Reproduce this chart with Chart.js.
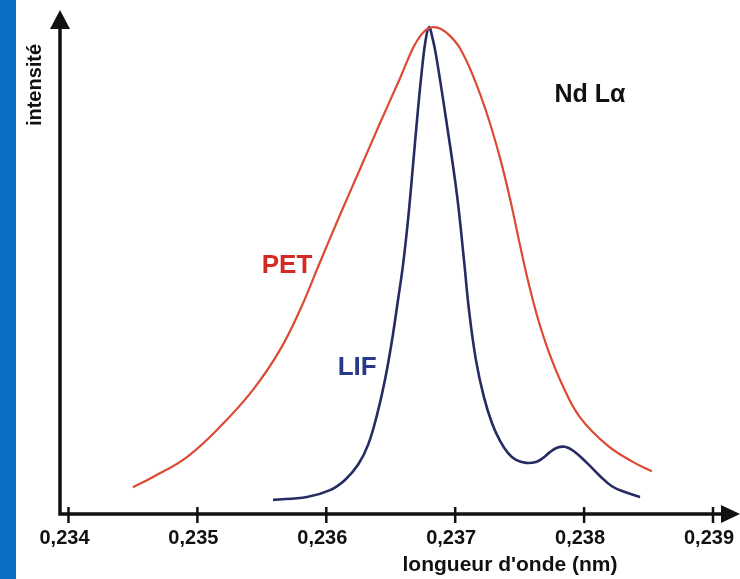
<!DOCTYPE html>
<html>
<head>
<meta charset="utf-8">
<script src="https://cdn.jsdelivr.net/npm/chart.js@4.4.1/dist/chart.umd.min.js"></script>
<style>
  html, body { margin: 0; padding: 0; background: #ffffff; }
  #wrap { width: 740px; height: 579px; }
</style>
</head>
<body>
<div id="wrap"><canvas id="spectrum" width="740" height="579"></canvas></div>
<script>
// wavelength (nm) and relative intensity
const petX = [0.234500, 0.234656, 0.234919, 0.235175, 0.235431, 0.235641, 0.235796, 0.235951,
              0.236106, 0.236261, 0.236417, 0.236572, 0.236673, 0.236735, 0.236789, 0.236836,
              0.236890, 0.236960, 0.237036, 0.237137, 0.237245, 0.237346, 0.237424, 0.237494,
              0.237564, 0.237641, 0.237726, 0.237835, 0.237967, 0.238176, 0.238378, 0.238525];
const petY = [5.5, 7.6, 11.7, 17.9, 25.5, 33.7, 41.9, 51.7,
              61.4, 70.8, 80.3, 89.5, 95.7, 98.4, 99.7, 100,
              99.6, 98.2, 95.7, 90.1, 82.3, 73.3, 64.9, 56.3,
              48.0, 40.2, 33.3, 26.3, 19.9, 14.2, 10.7, 8.8];

const lifX = [0.235587, 0.235850, 0.236029, 0.236145, 0.236246, 0.236324, 0.236393, 0.236455,
              0.236510, 0.236556, 0.236595, 0.236634, 0.236673, 0.236711, 0.236750, 0.236773,
              0.236797, 0.236820, 0.236851, 0.236936, 0.237014, 0.237068, 0.237107, 0.237161,
              0.237223, 0.237285, 0.237348, 0.237410, 0.237472, 0.237549, 0.237627, 0.237681,
              0.237735, 0.237790, 0.237852, 0.237921, 0.238022, 0.238123, 0.238216, 0.238317,
              0.238434];
const lifY = [2.9, 3.5, 4.9, 7.0, 10.1, 14.2, 20.3, 27.5,
              35.7, 43.9, 51.1, 60.4, 71.7, 83.0, 93.2, 97.7,
              100, 98.2, 94.3, 79.9, 65.5, 52.2, 41.9, 31.6,
              24.0, 18.7, 15.0, 12.5, 11.1, 10.5, 10.7, 11.5,
              12.7, 13.6, 13.8, 12.9, 10.5, 7.8, 5.7, 4.5,
              3.5];

const xTicks = [0.234, 0.235, 0.236, 0.237, 0.238, 0.239];

const FONT = '"Liberation Sans", Arial, sans-serif';

const toPoints = (xs, ys) => xs.map((x, i) => ({ x: x, y: ys[i] }));

// axes with arrows, crossing tick marks, labels and the blue side band
const figurePlugin = {
    id: 'figure',
    beforeDraw(chart) {
        const ctx = chart.ctx;
        ctx.save();
        ctx.fillStyle = '#ffffff';
        ctx.fillRect(0, 0, chart.width, chart.height);
        ctx.fillStyle = '#0a6fc2';
        ctx.fillRect(0, 0, 16, chart.height);
        ctx.restore();
    },
    afterDraw(chart) {
        const ctx = chart.ctx;
        const area = chart.chartArea;
        const xs = chart.scales.x;
        const ys = chart.scales.y;
        ctx.save();

        // axis lines
        ctx.strokeStyle = '#111111';
        ctx.lineWidth = 3.5;
        ctx.beginPath();
        ctx.moveTo(area.left, area.top + 14);
        ctx.lineTo(area.left, area.bottom);
        ctx.lineTo(area.right - 14, area.bottom);
        ctx.stroke();

        // arrow heads
        ctx.fillStyle = '#111111';
        ctx.beginPath();
        ctx.moveTo(area.left, area.top - 2);
        ctx.lineTo(area.left - 10, area.top + 17);
        ctx.lineTo(area.left + 10, area.top + 17);
        ctx.closePath();
        ctx.fill();
        ctx.beginPath();
        ctx.moveTo(area.right + 2, area.bottom);
        ctx.lineTo(area.right - 17, area.bottom - 9);
        ctx.lineTo(area.right - 17, area.bottom + 9);
        ctx.closePath();
        ctx.fill();

        // ticks and tick labels
        ctx.lineWidth = 2.5;
        ctx.font = 'bold 20px ' + FONT;
        ctx.textAlign = 'center';
        ctx.textBaseline = 'middle';
        xTicks.forEach(v => {
            const px = xs.getPixelForValue(v);
            ctx.beginPath();
            ctx.moveTo(px, area.bottom - 7);
            ctx.lineTo(px, area.bottom + 9);
            ctx.stroke();
            ctx.fillText(v.toFixed(3).replace('.', ','), px - 4, area.bottom + 24);
        });

        // axis titles
        ctx.font = 'bold 21px ' + FONT;
        ctx.fillText("longueur d'onde (nm)", 510, 565);
        ctx.save();
        ctx.translate(35, 85);
        ctx.rotate(-Math.PI / 2);
        ctx.font = 'bold 20px ' + FONT;
        ctx.fillText('intensité', 0, 0);
        ctx.restore();

        // curve labels
        ctx.font = 'bold 26px ' + FONT;
        ctx.fillStyle = '#d42a23';
        ctx.fillText('PET', xs.getPixelForValue(0.235695), ys.getPixelForValue(51));
        ctx.fillStyle = '#26398a';
        ctx.fillText('LIF', xs.getPixelForValue(0.236240), ys.getPixelForValue(30));
        ctx.fillStyle = '#111111';
        ctx.font = 'bold 25px ' + FONT;
        ctx.fillText('Nd Lα', xs.getPixelForValue(0.238046), ys.getPixelForValue(86));

        ctx.restore();
    }
};

const spectrumChart = new Chart(document.getElementById('spectrum'), {
    type: 'line',
    data: {
        datasets: [{
            label: 'PET',
            data: toPoints(petX, petY),
            borderColor: '#dc4a33',
            borderWidth: 2.2,
            pointRadius: 0,
            fill: false,
            tension: 0.4
        }, {
            label: 'LIF',
            data: toPoints(lifX, lifY),
            borderColor: '#262b62',
            borderWidth: 2.6,
            pointRadius: 0,
            fill: false,
            tension: 0.4
        }]
    },
    options: {
        responsive: false,
        animation: false,
        layout: {
            padding: { left: 60, right: 2, top: 12, bottom: 65 }
        },
        scales: {
            x: {
                type: 'linear',
                display: false,
                min: 0.2339341,
                max: 0.2391940
            },
            y: {
                display: false,
                min: 0,
                max: 103.1
            }
        },
        plugins: {
            legend: { display: false },
            tooltip: { enabled: false }
        }
    },
    plugins: [figurePlugin]
});
</script>
</body>
</html>
